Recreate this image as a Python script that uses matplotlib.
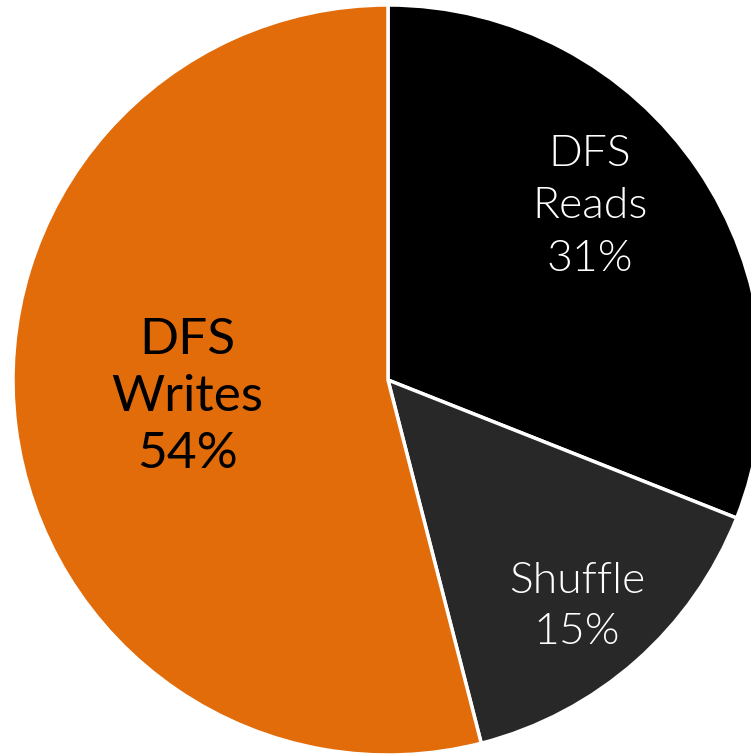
import matplotlib
matplotlib.use("Agg")
import matplotlib.pyplot as plt

# Share of I/O traffic by category
categories = ["DFS\nReads", "Shuffle", "DFS\nWrites"]
shares = [31, 15, 54]
colors = ["#000000", "#282828", "#E36C0A"]
text_colors = ["white", "white", "black"]
text_weights = [300, 300, 400]

W, H = 751, 754
fig = plt.figure(figsize=(W / 100, H / 100), dpi=100)
ax = fig.add_axes([0, 0, 1, 1])

cx, cy, r = 388, H - 380, 375
wedges, _ = ax.pie(
    shares,
    colors=colors,
    startangle=90,
    counterclock=False,
    center=(cx, cy),
    radius=r,
    wedgeprops=dict(edgecolor="white", linewidth=2.5),
    frame=True,
)
ax.set_xlim(0, W)
ax.set_ylim(0, H)
ax.set_aspect("equal")
ax.axis("off")

# label anchor points (pixels from top-left)
label_pos = [(590, 207), (577, 607), (187, 397)]
sizes = [32, 32, 37]
spacing = [1.42, 1.38, 1.3]
for cat, val, (x, y), tc, fw, fs, ls in zip(categories, shares, label_pos,
                                            text_colors, text_weights, sizes, spacing):
    ax.text(x, H - y, f"{cat}\n{val}%", ha="center", va="center",
            color=tc, fontsize=fs, family="Lato", fontweight=fw,
            linespacing=ls)

fig.savefig("out.png", dpi=100)
